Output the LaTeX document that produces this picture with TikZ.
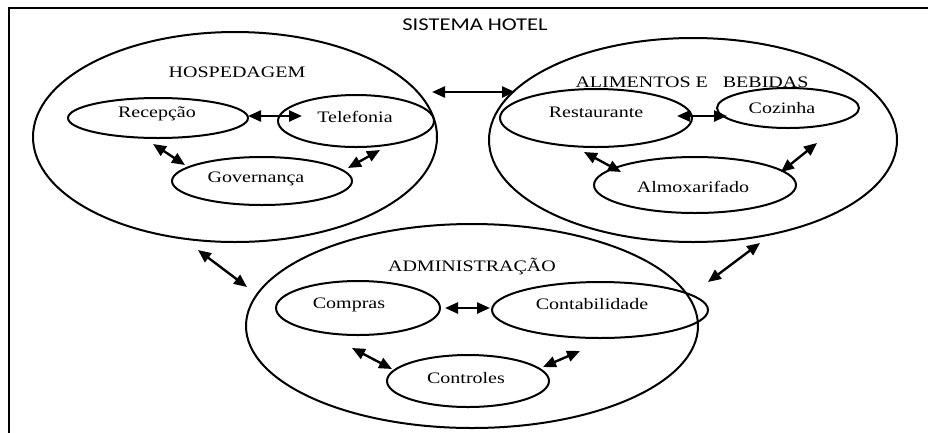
\documentclass[tikz,border=0pt]{standalone}
\usepackage{fontspec}
\usepackage{graphicx}
\setmainfont{Liberation Serif}
\newfontfamily\titlefont{Carlito}
\usetikzlibrary{arrows.meta,shapes.geometric}
\newcommand\hs[1]{\scalebox{1.25}[1]{#1}}
\tikzset{
  oval/.style={draw, ellipse, line width=2pt, inner sep=0pt, outer sep=0pt},
  lbl/.style={font=\fontsize{16}{18}\selectfont, inner sep=0pt, anchor=base},
  dar/.style={line width=2.4pt, {Triangle[length=13pt,width=11pt]}-{Triangle[length=13pt,width=11pt]}},
  frame/.style={line width=2.6pt, line join=miter}
}
\begin{document}
\begin{tikzpicture}[x=1pt, y=-1pt]
\useasboundingbox (0,0) rectangle (928,432);
% frame
\draw[frame] (9,440) -- (9,8) -- (936,8);
\node[lbl, font=\titlefont\fontsize{18}{20}\selectfont] (title) at (475,30) {\hs{SISTEMA HOTEL}};

% big ellipses
\node[oval, minimum width=404pt, minimum height=210pt] (hosp) at (235,137) {};
\node[oval, minimum width=408pt, minimum height=204pt] (alim) at (693,140) {};
\node[oval, minimum width=452pt, minimum height=204pt] (admin) at (472,326) {};

% inner ellipses
\node[oval, minimum width=180pt, minimum height=40pt] (recep) at (158,118) {};
\node[oval, minimum width=156pt, minimum height=52pt] (tel) at (356,121) {};
\node[oval, minimum width=180pt, minimum height=48pt] (gov) at (262,181) {};
\node[oval, minimum width=192pt, minimum height=58pt] (rest) at (596,118) {};
\node[oval, minimum width=142pt, minimum height=40pt] (coz) at (788,108) {};
\node[oval, minimum width=202pt, minimum height=56pt] (almox) at (695,185) {};
\node[oval, minimum width=164pt, minimum height=54pt] (compras) at (358,308) {};
\node[oval, minimum width=216pt, minimum height=56pt] (contab) at (600,310) {};
\node[oval, minimum width=162pt, minimum height=52pt] (contr) at (468,381) {};

% labels
\node[lbl] (lhosp) at (237,77) {\hs{HOSPEDAGEM}};
\node[lbl] (lrecep) at (157,117) {\hs{Recepção}};
\node[lbl] (ltel) at (355,122) {\hs{Telefonia}};
\node[lbl] (lgov) at (256,182) {\hs{Governança}};
\node[lbl] (lalim) at (692,87) {\hs{ALIMENTOS E~~~BEBIDAS}};
\node[lbl] (lrest) at (596,117) {\hs{Restaurante}};
\node[lbl] (lcoz) at (782,113) {\hs{Cozinha}};
\node[lbl] (lalmox) at (693,192) {\hs{Almoxarifado}};
\node[lbl] (ladmin) at (472,271) {\hs{ADMINISTRAÇÃO}};
\node[lbl] (lcompras) at (349,308) {\hs{Compras}};
\node[lbl] (lcontab) at (592,309) {\hs{Contabilidade}};
\node[lbl] (lcontr) at (466,383) {\hs{Controles}};

% connectors
\draw[dar] ([shift={(90,-2)}]recep.center) -- ([shift={(-54,-5)}]tel.center);
\draw[dar] ([shift={(-5,26)}]recep.center) -- ([shift={(-77,-16)}]gov.center);
\draw[dar] ([shift={(24,29)}]tel.center) -- ([shift={(86,-13)}]gov.center);
\draw[dar] ([shift={(197,-45)}]hosp.center) -- ([shift={(-178,-48)}]alim.center);
\draw[dar] ([shift={(81,-2)}]rest.center) -- ([shift={(-61,8)}]coz.center);
\draw[dar] ([shift={(-12,34)}]rest.center) -- ([shift={(-74,-13)}]almox.center);
\draw[dar] ([shift={(29,35)}]coz.center) -- ([shift={(86,-13)}]almox.center);
\draw[dar] ([shift={(-37,113)}]hosp.center) -- ([shift={(-225,-39)}]admin.center);
\draw[dar] ([shift={(67,103)}]alim.center) -- ([shift={(236,-44)}]admin.center);
\draw[dar] ([shift={(87,0)}]compras.center) -- ([shift={(-110,-2)}]contab.center);
\draw[dar] ([shift={(-6,40)}]compras.center) -- ([shift={(-76,-12)}]contr.center);
\draw[dar] ([shift={(-20,41)}]contab.center) -- ([shift={(75,-14)}]contr.center);
\end{tikzpicture}
\end{document}
